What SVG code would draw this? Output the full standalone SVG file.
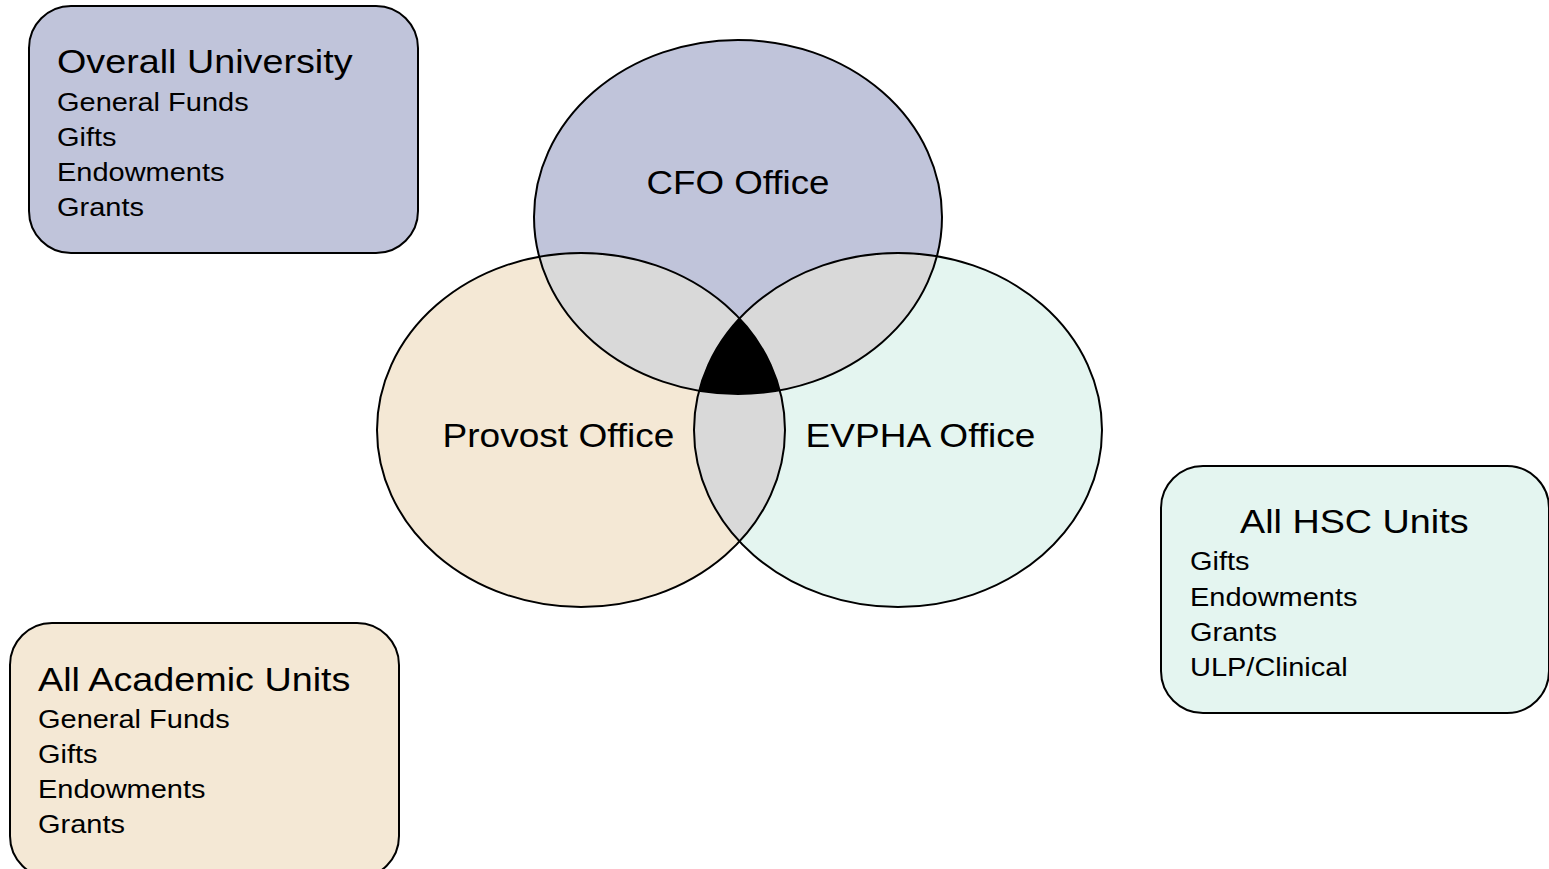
<svg xmlns="http://www.w3.org/2000/svg" xmlns:xlink="http://www.w3.org/1999/xlink" width="1549" height="869" viewBox="0 0 1549 869">
  <style>
    .box { stroke: #000; stroke-width: 2; }
    .ring { fill: none; stroke: #000; stroke-width: 2; }
    .title { font-family: "Liberation Sans", Arial, sans-serif; font-size: 34px; fill: #000; }
    .item { font-family: "Liberation Sans", Arial, sans-serif; font-size: 26px; fill: #000; }
    .lbl { font-family: "Liberation Sans", Arial, sans-serif; font-size: 34px; fill: #000; text-anchor: middle; }
  </style>
  <defs>
    <ellipse id="eCFO" cx="738" cy="217" rx="204" ry="177"/>
    <ellipse id="eProv" cx="581" cy="430" rx="204" ry="177"/>
    <ellipse id="eEvp" cx="898" cy="430" rx="204" ry="177"/>
    <clipPath id="clipCFO"><use xlink:href="#eCFO"/></clipPath>
    <clipPath id="clipProv"><use xlink:href="#eProv"/></clipPath>
  </defs>

  <rect width="1549" height="869" fill="#fff"/>

  <!-- three overlapping offices -->
  <g id="venn">
    <use xlink:href="#eCFO" fill="#C0C4DA"/>
    <use xlink:href="#eProv" fill="#F4E8D5"/>
    <use xlink:href="#eEvp" fill="#E4F5F0"/>
    <!-- pairwise overlaps -->
    <g clip-path="url(#clipCFO)"><use xlink:href="#eProv" fill="#D9D9D9"/></g>
    <g clip-path="url(#clipCFO)"><use xlink:href="#eEvp" fill="#D9D9D9"/></g>
    <g clip-path="url(#clipProv)"><use xlink:href="#eEvp" fill="#D9D9D9"/></g>
    <!-- shared by all three -->
    <g clip-path="url(#clipCFO)"><g clip-path="url(#clipProv)"><use xlink:href="#eEvp" fill="#000"/></g></g>
    <use xlink:href="#eCFO" class="ring"/>
    <use xlink:href="#eProv" class="ring"/>
    <use xlink:href="#eEvp" class="ring"/>
  </g>

  <g id="cfo">
    <text class="lbl" transform="translate(738,194) scale(1.08,1)">CFO Office</text>
  </g>
  <g id="provost">
    <text class="lbl" transform="translate(558.5,447) scale(1.09,1)">Provost Office</text>
  </g>
  <g id="evpha">
    <text class="lbl" transform="translate(920.5,447) scale(1.09,1)">EVPHA Office</text>
  </g>

  <!-- fund source boxes -->
  <g id="overall-university">
    <rect class="box" x="29" y="6" width="389" height="247" rx="42" ry="42" fill="#C0C4DA"/>
    <text class="title" transform="translate(57,73) scale(1.11,1)">Overall University</text>
    <text class="item" transform="translate(57,111) scale(1.115,1)">General Funds</text>
    <text class="item" transform="translate(57,146) scale(1.115,1)">Gifts</text>
    <text class="item" transform="translate(57,181) scale(1.115,1)">Endowments</text>
    <text class="item" transform="translate(57,216) scale(1.115,1)">Grants</text>
  </g>

  <g id="academic-units">
    <rect class="box" x="10" y="623" width="389" height="255" rx="42" ry="42" fill="#F4E8D5"/>
    <text class="title" transform="translate(38,691) scale(1.11,1)">All Academic Units</text>
    <text class="item" transform="translate(38,728) scale(1.115,1)">General Funds</text>
    <text class="item" transform="translate(38,763) scale(1.115,1)">Gifts</text>
    <text class="item" transform="translate(38,798) scale(1.115,1)">Endowments</text>
    <text class="item" transform="translate(38,833) scale(1.115,1)">Grants</text>
  </g>

  <g id="hsc-units">
    <rect class="box" x="1161" y="466" width="388" height="247" rx="42" ry="42" fill="#E4F5F0"/>
    <text class="title" transform="translate(1240,533) scale(1.11,1)">All HSC Units</text>
    <text class="item" transform="translate(1190,570) scale(1.115,1)">Gifts</text>
    <text class="item" transform="translate(1190,605.5) scale(1.115,1)">Endowments</text>
    <text class="item" transform="translate(1190,640.5) scale(1.115,1)">Grants</text>
    <text class="item" transform="translate(1190,676) scale(1.115,1)">ULP/Clinical</text>
  </g>

  <g id="connectors"/>
</svg>
